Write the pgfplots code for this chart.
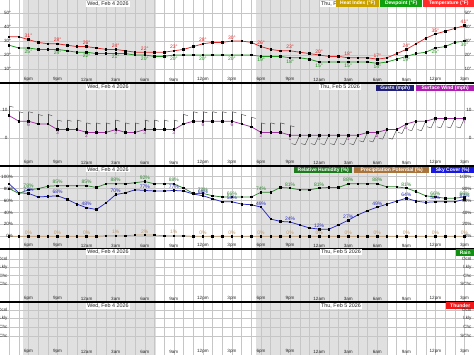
\documentclass[border=0pt]{standalone}
\usepackage{fontspec}
\setmainfont{Liberation Sans}
\usepackage{pgfplots}
\pgfplotsset{compat=1.18}
\usepackage{pgfplotstable}

\definecolor{tempc}{HTML}{E02828}
\definecolor{dewc}{HTML}{1E961E}
\definecolor{windc}{HTML}{A030A0}
\definecolor{rhc}{HTML}{2F852F}
\definecolor{skyc}{HTML}{2B2BC8}
\definecolor{precc}{HTML}{C39A6B}
\definecolor{shadec}{HTML}{E0E0E0}
\definecolor{gridc}{HTML}{C6C6C6}
\definecolor{barbc}{HTML}{505050}
\definecolor{heatL}{HTML}{C8A000}
\definecolor{dewL}{HTML}{10A010}
\definecolor{tempL}{HTML}{FF2A2A}
\definecolor{gustL}{HTML}{20207A}
\definecolor{windL}{HTML}{B020B0}
\definecolor{rhL}{HTML}{1F7A1F}
\definecolor{precL}{HTML}{A8743C}
\definecolor{skyL}{HTML}{1818E0}
\definecolor{rainL}{HTML}{109010}
\definecolor{thunL}{HTML}{F01818}

\newcommand{\tf}{\fontsize{4.6}{5}\selectfont}
\newcommand{\df}{\fontsize{5}{5.5}\selectfont}
\newcommand{\hf}{\fontsize{5.4}{6}\selectfont}
\newcommand{\lf}{\fontsize{5}{6}\selectfont\bfseries}

\pgfplotstableread{
h T D W S R P
0 33 27 8 88 80 0
1 33 25 6 73 72 0
2 31 25 6 72 78 0
3 29 24 5 66 80 0
4 28 24 5 67 84 0
5 28 24 3 68 85 0
6 27 23 3 62 85 0
7 26 22 3 54 85 0
8 26 22 2 48 85 0
9 25 21 2 45 82 0
10 24 21 2 56 88 1
11 24 21 3 70 88 1
12 23 21 2 73 88 1
13 22 20 2 78 90 2
14 22 20 3 77 92 2
15 22 19 3 76 88 2
16 22 19 3 76 88 1
17 23 20 3 77 88 1
18 24 20 5 76 81 1
19 26 20 6 71 72 0
20 28 20 6 68 72 0
21 29 20 6 63 68 0
22 29 20 6 58 66 0
23 30 20 6 58 66 0
24 30 20 5 54 66 0
25 29 20 4 53 66 0
26 26 19 2 49 74 0
27 24 19 2 29 74 0
28 23 19 2 25 82 0
29 23 18 1 24 81 0
30 22 18 1 19 78 0
31 21 17 1 14 78 0
32 20 15 1 12 81 0
33 19 15 1 12 82 0
34 19 15 1 19 82 0
35 18 15 1 27 88 0
36 18 15 1 36 88 0
37 18 15 2 43 88 0
38 17 14 2 49 88 0
39 18 15 3 54 83 0
40 21 17 3 59 83 0
41 24 19 5 64 81 0
42 28 21 6 59 75 0
43 32 22 6 57 68 0
44 35 25 7 58 66 0
45 37 26 7 58 64 0
46 39 29 7 58 64 0
47 41 30 7 62 66 0
}\hourly

\pgfplotsset{
  panel/.style={
    scale only axis, width=474pt, anchor=north west,
    xmin=-0.94, xmax=47.98,
    axis line style={draw=none},
    major tick length=0pt, minor tick length=0pt,
    xtick={2,5,...,47},
    xticklabels={6pm,9pm,12am,3am,6am,9am,12pm,3pm,6pm,9pm,12am,3am,6am,9am,12pm,3pm},
    minor xtick={0,1,...,47},
    xmajorgrids, xminorgrids, ymajorgrids,
    major grid style={draw=gridc, line width=0.45pt},
    minor grid style={draw=gridc, line width=0.45pt},
    yticklabel={},
    xticklabel style={font=\tf, anchor=south, inner sep=0.6pt, yshift=0.8pt, text=black!85},
  },
  dline/.style={line width=0.75pt, mark=square*, mark size=0.75pt, mark options={black,solid}},
  lab/.style={draw=none, mark=none, point meta=y,
    x filter/.expression={abs(mod(x+1,3))<0.1 ? x : nan},
    nodes near coords={\pgfmathprintnumber[assume math mode=true]{\pgfplotspointmeta}#1},
    every node near coord/.append style={font=\df, inner sep=0.5pt}},
  barb/.style={barbc, line width=0.45pt},
}

\begin{document}
\begin{tikzpicture}[x=1pt,y=1pt]
\useasboundingbox (0,0) rectangle (474,-355);
% night shading
\fill[shadec] (23,0) rectangle (156,-355);
\fill[shadec] (256,0) rectangle (388,-355);

% Panel 1: temperature / dewpoint
\begin{axis}[panel, at={(0pt,0pt)}, height=83pt, ymin=0, ymax=59.3, ytick={10,20,30,40,50}]
\addplot[dline, dewc] table[x=h,y=D]{\hourly};
\addplot[dline, tempc] table[x=h,y=T]{\hourly};
\addplot[lab=°, every node near coord/.append style={text=tempc, anchor=south, yshift=1.2pt}] table[x=h,y=T]{\hourly};
\addplot[lab=°, every node near coord/.append style={text=dewc, anchor=north, yshift=-1.2pt}] table[x=h,y=D]{\hourly};
\end{axis}

% Panel 2: wind
\begin{axis}[panel, at={(0pt,-83pt)}, height=83pt, ymin=-10, ymax=19.64, ytick={0,10}]
\addplot[barb, quiver={u=0,v=3.4}, x filter/.expression={x<29.5 ? x : nan}] table[x=h,y=W]{\hourly};
\addplot[barb, quiver={u=0.45,v=-0.4}, x filter/.expression={x<29.5 ? x : nan}] table[x=h,y expr=\thisrow{W}+3.4]{\hourly};
\addplot[barb, quiver={u=-0.45,v=-3.4}, x filter/.expression={x>29.5 ? x : nan}] table[x=h,y=W]{\hourly};
\addplot[barb, quiver={u=-0.4,v=0.4}, x filter/.expression={x>29 ? x : nan}] table[x expr=\thisrow{h}-0.45,y expr=\thisrow{W}-3.4]{\hourly};
\addplot[dline, windc] table[x=h,y=W]{\hourly};
\addplot[lab={}, every node near coord/.append style={text=windc, anchor=north, yshift=-1.2pt}] table[x=h,y=W]{\hourly};
\end{axis}

% Panel 3: RH / precip / sky
\begin{axis}[panel, at={(0pt,-166pt)}, height=83pt, ymin=-21.3, ymax=118, ytick={0,20,...,100}]
\addplot[dline, precc] table[x=h,y=P]{\hourly};
\addplot[dline, skyc] table[x=h,y=S]{\hourly};
\addplot[dline, rhc] table[x=h,y=R]{\hourly};
\addplot[lab=\%, every node near coord/.append style={text=precc, anchor=south, yshift=1.2pt}] table[x=h,y=P]{\hourly};
\addplot[lab=\%, every node near coord/.append style={text=skyc, anchor=south, yshift=1.2pt}] table[x=h,y=S]{\hourly};
\addplot[lab=\%, every node near coord/.append style={text=rhc, anchor=south, yshift=1.2pt}] table[x=h,y=R]{\hourly};
\end{axis}

% Panel 4: rain
\begin{axis}[panel, at={(0pt,-249pt)}, height=53pt, ymin=-1.16, ymax=5.2, ytick={1,2,3,4}]
\end{axis}

% Panel 5: thunder
\begin{axis}[panel, at={(0pt,-302pt)}, height=53pt, ymin=-1.19, ymax=4.92, ytick={1,2,3,4}]
\end{axis}

% separators
\foreach \y in {83,166,249,302} \draw[line width=1.3pt] (0,-\y) -- (474,-\y);

% date headers
\tikzset{hdr/.style={fill=white, font=\hf, inner xsep=1pt, inner ysep=0.6pt, text=black!85}}
\node[hdr] at (108,-4) {Wed, Feb 4 2026};
\node[hdr] at (341,-4) {Thu, Feb 5 2026};
\node[hdr] at (108,-86.8) {Wed, Feb 4 2026};
\node[hdr] at (340,-86.8) {Thu, Feb 5 2026};
\node[hdr] at (108,-169.5) {Wed, Feb 4 2026};
\node[hdr] at (108,-252.3) {Wed, Feb 4 2026};
\node[hdr] at (341,-252.3) {Thu, Feb 5 2026};
\node[hdr] at (108,-306.3) {Wed, Feb 4 2026};
\node[hdr] at (341,-305.8) {Thu, Feb 5 2026};

% legends
\tikzset{lg/.style={text=white, font=\lf, inner sep=0pt, anchor=north west}}
\node[lg, fill=heatL, minimum width=43pt, minimum height=7pt] at (336,0) {Heat Index (°F)};
\node[lg, fill=dewL, minimum width=42pt, minimum height=7pt] at (380,0) {Dewpoint (°F)};
\node[lg, fill=tempL, minimum width=51pt, minimum height=7pt] at (423,0) {Temperature (°F)};
\node[lg, fill=gustL, minimum width=38pt, minimum height=6.5pt] at (376,-84.5) {Gusts (mph)};
\node[lg, fill=windL, minimum width=58pt, minimum height=6.5pt] at (416,-84.5) {Surface Wind (mph)};
\node[lg, fill=rhL, minimum width=58pt, minimum height=6.2pt] at (294,-167) {Relative Humidity (\%)};
\node[lg, fill=precL, minimum width=75pt, minimum height=6.2pt] at (354,-167) {Precipitation Potential (\%)};
\node[lg, fill=skyL, minimum width=43pt, minimum height=6.2pt] at (431,-167) {Sky Cover (\%)};
\node[lg, fill=rainL, minimum width=18pt, minimum height=7pt] at (456,-249) {Rain};
\node[lg, fill=thunL, minimum width=28pt, minimum height=7pt] at (446,-302) {Thunder};

% y labels
\tikzset{yl/.style={font=\tf, inner sep=0.3pt, text=black!85, anchor=east}}
\foreach \y/\t in {13/50°,27/40°,41/30°,55/20°,69/10°}{
  \node[yl] at (11.5,-\y) {\t};
  \node[yl] at (472,-\y) {\t};
}
\foreach \y/\t in {110/10,138/0}{
  \node[yl] at (8,-\y) {\t};
  \node[yl] at (472,-\y) {\t};
}
\foreach \y/\t in {176.7/100\%,188.6/80\%,200.6/60\%,212.5/40\%,224.4/20\%,236.3/0\%}{
  \node[yl] at (13.5,-\y) {\t};
  \node[yl] at (472,-\y) {\t};
}
\foreach \y/\t in {259/Ocnl,267.3/Lkly,275.7/Chc,284/SChc,310/Ocnl,318.7/Lkly,327.3/Chc,336/SChc}{
  \node[yl] at (8,-\y) {\t};
  \node[yl] at (472,-\y) {\t};
}
\end{tikzpicture}
\end{document}
